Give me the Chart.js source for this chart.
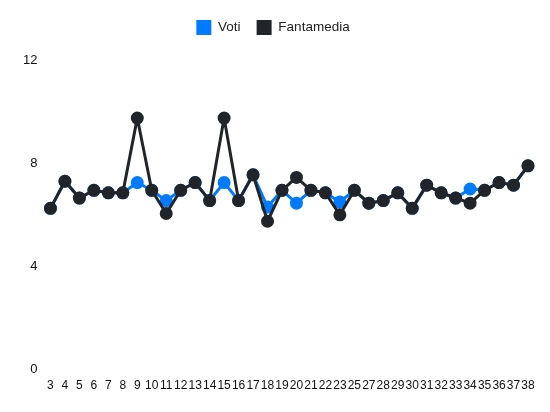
<!DOCTYPE html>
<html>
<head>
<meta charset="utf-8">
<script src="https://cdn.jsdelivr.net/npm/chart.js@4.4.1/dist/chart.umd.min.js"></script>
<style>
    html, body { margin: 0; padding: 0; background: #fff; }
    #wrap { width: 550px; height: 412px; }
</style>
</head>
<body>
<div id="wrap"><canvas id="myChart"></canvas></div>
<script>
// giornate (24 and 26 missing)
var labels = ['3', '4', '5', '6', '7', '8', '9', '10', '11', '12', '13', '14', '15', '16', '17', '18', '19', '20', '21', '22', '23', '25', '27', '28', '29', '30', '31', '32', '33', '34', '35', '36', '37', '38'];
var voti = [6.25, 7.3, 6.65, 6.95, 6.85, 6.85, 7.25, 6.95, 6.55, 6.95, 7.25, 6.55, 7.25, 6.55, 7.55, 6.3, 6.95, 6.45, 6.95, 6.85, 6.5, 6.95, 6.45, 6.55, 6.85, 6.25, 7.15, 6.85, 6.65, 7.0, 6.95, 7.25, 7.15, 7.9];
var fantamedia = [6.25, 7.3, 6.65, 6.95, 6.85, 6.85, 9.75, 6.95, 6.05, 6.95, 7.25, 6.55, 9.75, 6.55, 7.55, 5.75, 6.95, 7.45, 6.95, 6.85, 6.0, 6.95, 6.45, 6.55, 6.85, 6.25, 7.15, 6.85, 6.65, 6.45, 6.95, 7.25, 7.15, 7.9];
var yTicks = [0, 4, 8, 12];

Chart.defaults.font.family = "'Liberation Sans', Arial, sans-serif";
Chart.defaults.font.size = 12;
Chart.defaults.color = '#222';

// extra room under the legend
const legendMargin = {
    id: 'legendMargin',
    beforeInit: function (chart) {
        const fit = chart.legend.fit;
        chart.legend.fit = function () {
            fit.bind(chart.legend)();
            this.height += 15;
        };
    }
};

const ctx = document.getElementById('myChart');
const myChart = new Chart(ctx, {
    type: 'line',
    data: {
        labels: labels,
        datasets: [{
            label: 'Voti',
            data: voti,
            borderColor: 'rgb(0,123,255)',
            backgroundColor: 'rgb(0,123,255)',
            borderWidth: 3,
            borderJoinStyle: 'round',
            pointRadius: 5,
            pointHoverRadius: 5,
            tension: 0,
            order: 1
        }, {
            label: 'Fantamedia',
            data: fantamedia,
            borderColor: 'rgb(33,37,41)',
            backgroundColor: 'rgb(33,37,41)',
            borderWidth: 3,
            borderJoinStyle: 'round',
            pointRadius: 5,
            pointHoverRadius: 5,
            tension: 0,
            order: 0
        }]
    },
    options: {
        responsive: true,
        maintainAspectRatio: false,
        animation: false,
        layout: {
            padding: { left: 18, right: 22, top: 4, bottom: 18 }
        },
        plugins: {
            legend: {
                position: 'top',
                labels: {
                    boxWidth: 15,
                    boxHeight: 15,
                    padding: 16,
                    font: { size: 13.5 },
                    sort: function (a, b) { return a.datasetIndex - b.datasetIndex; },
                    generateLabels: function (chart) {
                        var items = Chart.defaults.plugins.legend.labels.generateLabels(chart);
                        items.forEach(function (it) { it.lineWidth = 0; });
                        return items;
                    }
                }
            },
            tooltip: { enabled: false }
        },
        scales: {
            x: {
                grid: { display: false },
                border: { display: false },
                ticks: {
                    autoSkip: false,
                    maxRotation: 0,
                    minRotation: 0,
                    padding: 1,
                    color: '#111'
                }
            },
            y: {
                min: 0,
                max: 12,
                grid: { display: false },
                border: { display: false },
                afterBuildTicks: function (axis) {
                    axis.ticks = yTicks.map(function (v) { return { value: v }; });
                },
                ticks: {
                    padding: 5,
                    font: { size: 13 },
                    color: '#111'
                }
            }
        }
    },
    plugins: [legendMargin]
});
</script>
</body>
</html>
